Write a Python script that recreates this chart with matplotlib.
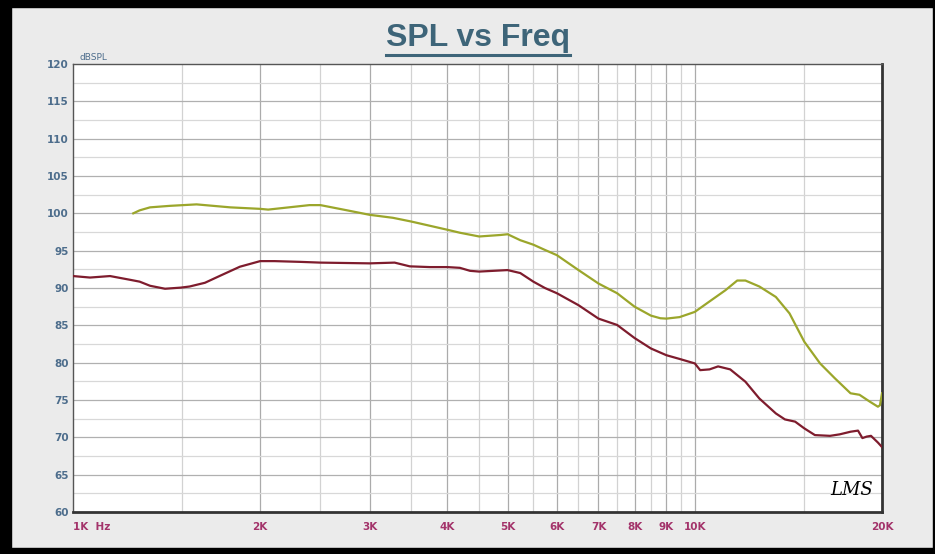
import numpy as np
import matplotlib.pyplot as plt
from matplotlib.patches import Rectangle
from matplotlib.lines import Line2D

# green (upper) curve
freq_green = [1250, 1280, 1330, 1430, 1580, 1790, 2000, 2060, 2400, 2500, 2760, 3000, 3270,
              3500, 4000, 4190, 4500, 4870, 5000, 5240, 5500, 5740, 6000, 6500, 7000, 7500,
              8000, 8500, 8800, 9000, 9450, 10000, 10560, 11200, 11700, 12060, 12700, 13500,
              14200, 15000, 15900, 16800, 17800, 18400, 19100, 19700, 19850, 20000]
spl_green = [100.0, 100.4, 100.8, 101.0, 101.2, 100.8, 100.6, 100.5, 101.1, 101.1, 100.4, 99.8, 99.4,
             98.9, 97.8, 97.4, 96.9, 97.1, 97.2, 96.4, 95.8, 95.1, 94.4, 92.4, 90.6, 89.3,
             87.5, 86.3, 85.95, 85.9, 86.1, 86.8, 88.2, 89.7, 91.0, 91.0, 90.2, 88.8,
             86.6, 82.8, 79.9, 77.9, 75.9, 75.7, 74.8, 74.1, 74.3, 75.9]

# red (lower) curve
freq_red = [1000, 1065, 1147, 1235, 1280, 1330, 1406, 1490, 1540, 1630, 1720, 1855, 2000, 2110,
            2320, 2500, 3000, 3290, 3480, 3750, 4000, 4190, 4350, 4500, 5000, 5240, 5500, 5740,
            6000, 6500, 7000, 7500, 8000, 8500, 9000, 9450, 10000, 10200, 10560, 10900, 11400,
            12060, 12700, 13500, 13960, 14500, 15000, 15600, 16500, 17100, 17800, 18300, 18600,
            18900, 19200, 19700, 20000]
spl_red = [91.6, 91.4, 91.6, 91.1, 90.85, 90.3, 89.9, 90.05, 90.2, 90.7, 91.6, 92.85, 93.6, 93.6,
           93.5, 93.4, 93.3, 93.4, 92.9, 92.8, 92.8, 92.7, 92.3, 92.2, 92.4, 92.0, 90.85, 90.0,
           89.3, 87.7, 85.9, 85.05, 83.3, 81.9, 81.0, 80.5, 79.9, 79.0, 79.1, 79.5, 79.1,
           77.45, 75.2, 73.2, 72.4, 72.1, 71.2, 70.3, 70.2, 70.4, 70.75, 70.9, 69.9,
           70.1, 70.2, 69.3, 68.7]

x_ticks = [1000, 2000, 3000, 4000, 5000, 6000, 7000, 8000, 9000, 10000, 20000]
x_labels = ['1K  Hz', '2K', '3K', '4K', '5K', '6K', '7K', '8K', '9K', '10K', '20K']
x_minor = [1500, 2500, 3500, 4500, 5500, 6500, 7500, 8500, 9500, 15000]
y_ticks = list(range(60, 121, 5))
y_minor = list(np.arange(62.5, 120, 5))

fig = plt.figure(figsize=(9.35, 5.54), dpi=100, facecolor='#ebebeb')
ax = fig.add_axes([73 / 935, 42 / 554, 809 / 935, 448 / 554])
ax.set_facecolor('white')

ax.set_xscale('log')
ax.set_xlim(1000, 20000)
ax.set_ylim(60, 120)

# grid
for f in x_ticks[1:-1]:
    ax.axvline(f, color='#ababab', lw=0.9, zorder=1)
for f in x_minor:
    ax.axvline(f, color='#d2d2d2', lw=0.9, zorder=1)
for v in y_ticks[1:-1]:
    ax.axhline(v, color='#b0b0b0', lw=0.9, zorder=1)
for v in y_minor:
    ax.axhline(v, color='#d8d8d8', lw=0.9, zorder=1)

ax.plot(freq_green, spl_green, color='#9ba62b', lw=1.6, zorder=3)
ax.plot(freq_red, spl_red, color='#7e1c2d', lw=1.6, zorder=3)

ax.set_xticks(x_ticks)
ax.set_xticklabels(x_labels)
ax.xaxis.set_minor_locator(plt.NullLocator())
ax.set_yticks(y_ticks)
ax.tick_params(length=0)
ax.tick_params(axis='x', pad=7, labelsize=7.5, labelcolor='#a3336a')
ax.tick_params(axis='y', pad=3, labelsize=7.5, labelcolor='#4d6d8c')
for lab in ax.get_xticklabels() + ax.get_yticklabels():
    lab.set_fontweight('bold')
ax.get_xticklabels()[0].set_horizontalalignment('left')

for s in ['top', 'left']:
    ax.spines[s].set_color('#555555')
    ax.spines[s].set_linewidth(1.0)
for s in ['bottom', 'right']:
    ax.spines[s].set_color('#333333')
    ax.spines[s].set_linewidth(2.0)

ax.text(0.008, 1.005, 'dBSPL', transform=ax.transAxes, fontsize=6.5, color='#4d6d8c',
        ha='left', va='bottom')
ax.text(0.963, 0.05, 'LMS', transform=ax.transAxes, fontsize=13, style='italic',
        family='DejaVu Serif', color='black', ha='center', va='center')

# title with underline
title = fig.text(0.511, 0.932, 'SPL vs Freq', ha='center', va='center', fontsize=23,
                 fontweight='bold', color='#3e6579', family='Liberation Sans')
fig.canvas.draw()
bb = title.get_window_extent().transformed(fig.transFigure.inverted())
fig.add_artist(Line2D([bb.x0, bb.x1], [bb.y0 - 0.004, bb.y0 - 0.004],
                      transform=fig.transFigure, color='#3e6579', lw=2.2))

# black outer frame
for rect in [(0, 0, 11 / 935, 1), (0, 1 - 7 / 554, 1, 7 / 554), (0, 0, 1, 6 / 554),
             (1 - 2 / 935, 0, 2 / 935, 1)]:
    fig.add_artist(Rectangle(rect[:2], rect[2], rect[3], transform=fig.transFigure,
                             color='black', zorder=10))

plt.savefig('out.png', dpi=100, facecolor=fig.get_facecolor())
